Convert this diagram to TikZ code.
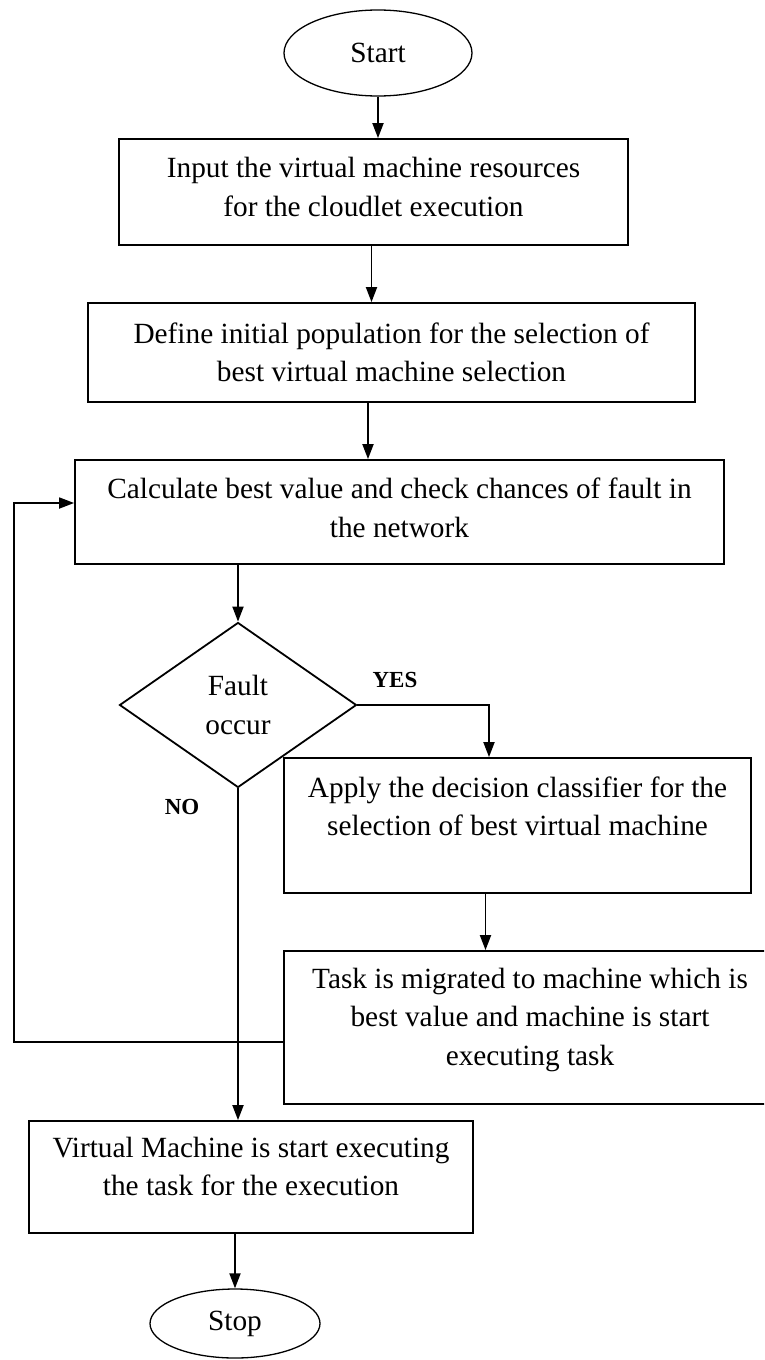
\documentclass[tikz,border=0pt]{standalone}
\usepackage{fontspec}
\setmainfont{Liberation Serif}
\usetikzlibrary{shapes.geometric,arrows.meta}

\begin{document}
\begin{tikzpicture}[x=1pt, y=1pt, line width=1.8pt,
	font=\fontsize{29.3}{38.5}\selectfont,
	box/.style={draw, rectangle, inner sep=0pt, align=center},
	term/.style={draw, ellipse, inner sep=0pt, line width=1.3pt},
	decision/.style={draw, diamond, inner sep=0pt, align=center},
	lbl/.style={font=\fontsize{23}{26}\selectfont\bfseries},
	arr/.style={-{Triangle[length=15pt,width=11pt]}}]
		\useasboundingbox (0,0) rectangle (764,-1360);
		\clip (0,0) rectangle (764,-1360);
		
		\node[term, minimum width=188pt, minimum height=86pt] (start) at (378,-53) {Start};
		\node[box, minimum width=509pt, minimum height=106pt] (input) at (373.5,-192) {Input the virtual machine resources\\for the cloudlet execution\\[-28pt]\mbox{}};
		\node[box, minimum width=607pt, minimum height=99pt] (define) at (391.5,-352.5) {Define initial population for the selection of\\best virtual machine selection};
		\node[box, minimum width=649pt, minimum height=104pt] (calc) at (399.5,-512) {Calculate best value and check chances of fault in\\the network\\[-30pt]\mbox{}};
		\node[decision, minimum width=237pt, minimum height=165pt] (fault) at (238,-705) {Fault\\occur};
		\node[box, minimum width=467pt, minimum height=135pt] (apply) at (517.5,-825.5) {Apply the decision classifier for the\\selection of best virtual machine\\\mbox{}};
		\node[box, minimum width=492pt, minimum height=153pt] (migrate) at (530,-1027.5) {Task is migrated to machine which is\\best value and machine is start\\executing task\\[-17pt]\mbox{}};
		\node[box, minimum width=444pt, minimum height=112pt] (vm) at (251,-1177) {Virtual Machine is start executing\\the task for the execution\\[-17pt]\mbox{}};
		\node[term, minimum width=170pt, minimum height=69pt] (stop) at (235,-1323.5) {Stop};
		
		\node[lbl] (yes) at (395,-680) {YES};
		\node[lbl] (no) at (182,-807) {NO};
		\coordinate (loop) at (14,-1042);
		
		\draw[arr] (start) -- (start |- input.north);
		\draw[arr] ([xshift=-2pt]input.south) -- ([xshift=-2pt]input.south |- define.north);
		\draw[arr] ([xshift=-23.5pt]define.south) -- ([xshift=-23.5pt]define.south |- calc.north);
		\draw[arr] (calc.south -| fault.north) -- (fault.north);
		\draw[arr] (fault.east) -| ([xshift=-28.5pt]apply.north);
		\draw[arr] ([xshift=-32pt]apply.south) -- ([xshift=-32pt]apply.south |- migrate.north);
		\draw[arr] (fault.south) -- (fault.south |- vm.north);
		\draw[arr] (migrate.west |- loop) -- (loop) |- ([yshift=9pt]calc.west);
		\draw[arr] ([xshift=-16pt]vm.south) -- ([xshift=-16pt]vm.south |- stop.north);
	\end{tikzpicture}
\end{document}
